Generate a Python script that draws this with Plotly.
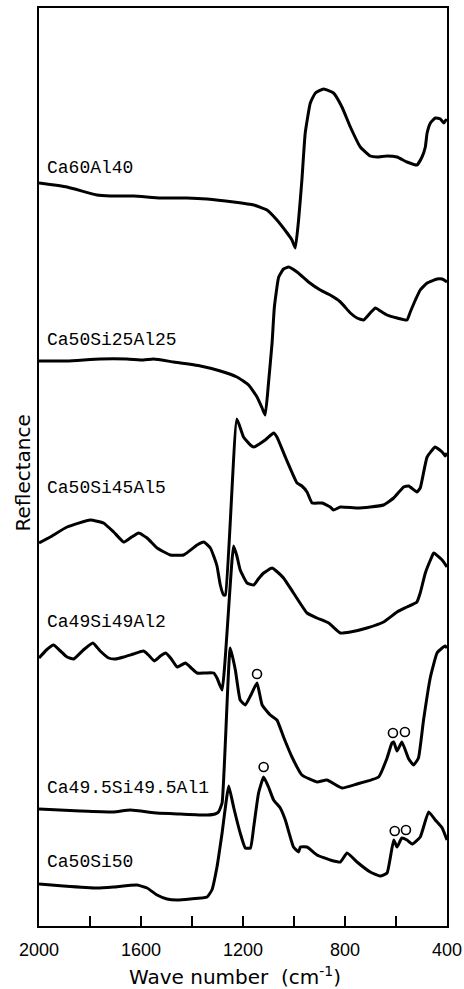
import plotly.graph_objects as go

# ---- data (wave number in cm^-1, reflectance in arbitrary offset units) ----
names = ["Ca60Al40", "Ca50Si25Al25", "Ca50Si45Al5", "Ca49Si49Al2",
         "Ca49.5Si49.5Al1", "Ca50Si50"]

wn_ca60al40 = [2000, 1890, 1773, 1720, 1629, 1524, 1420, 1341, 1237, 1158, 1106, 1067,
               1027, 1008, 995, 982, 969, 956, 936, 916, 884, 845, 812, 779, 740, 701,
               674, 635, 596, 557, 518, 498, 485, 478, 465, 446, 426, 413, 404, 400]
r_ca60al40 = [743, 739, 731, 730, 730, 728, 728, 727, 724, 721, 716, 706,
              693, 686, 678, 706, 746, 793, 823, 833, 837, 833, 819, 799, 779, 770,
              769, 770, 769, 764, 761, 769, 779, 793, 803, 808, 807, 803, 806, 805]

wn_ca50si25al25 = [2000, 1890, 1760, 1655, 1590, 1551, 1472, 1367, 1289, 1224, 1178, 1145,
                   1125, 1113, 1100, 1086, 1077, 1060, 1041, 1021, 988, 943, 897, 858,
                   818, 779, 753, 727, 701, 681, 661, 635, 596, 557, 544, 524, 505, 478,
                   439, 419, 400]
r_ca50si25al25 = [565, 565, 567, 567, 566, 567, 564, 560, 555, 549, 541, 529,
                  518, 511, 543, 583, 619, 649, 657, 659, 654, 644, 636, 631,
                  624, 613, 608, 606, 613, 618, 615, 611, 608, 606, 614, 626, 636, 643,
                  647, 647, 644]

wn_ca50si45al5 = [2000, 1956, 1890, 1799, 1747, 1707, 1668, 1642, 1609, 1576, 1537, 1485,
                  1433, 1380, 1354, 1328, 1315, 1302, 1289, 1276, 1269, 1224, 1198, 1171,
                  1158, 1113, 1080, 1067, 1034, 988, 969, 949, 929, 890, 858, 845, 818,
                  753, 701, 649, 609, 570, 550, 518, 505, 478, 446, 419, 407, 400]
r_ca50si45al5 = [383, 389, 399, 406, 403, 394, 384, 388, 393, 388, 378, 371,
                 371, 381, 384, 378, 370, 360, 341, 331, 331, 507, 489, 481,
                 479, 486, 493, 489, 469, 443, 440, 434, 423, 423, 419, 416, 419,
                 418, 419, 421, 428, 439, 440, 434, 438, 469, 479, 474, 470, 473]

wn_ca49si49al2 = [2000, 1971, 1943, 1916, 1890, 1864, 1826, 1789, 1760, 1727, 1701, 1668,
                  1630, 1590, 1567, 1548, 1524, 1503, 1481, 1458, 1426, 1407, 1380, 1348,
                  1315, 1302, 1282, 1237, 1224, 1211, 1184, 1158, 1140, 1119, 1086, 1065,
                  1041, 1002, 949, 910, 864, 818, 779, 714, 649, 596, 557, 518, 505, 485,
                  465, 452, 419, 400]
r_ca49si49al2 = [268, 276, 281, 275, 269, 267, 276, 283, 275, 268, 267, 269,
                 272, 275, 270, 265, 270, 273, 267, 259, 263, 259, 253, 253,
                 253, 248, 236, 380, 370, 356, 343, 341, 347, 353, 358, 354,
                 348, 333, 313, 308, 303, 293, 294, 298, 304, 314, 319, 324, 333, 353,
                 366, 373, 366, 359]

wn_ca495 = [2000, 1838, 1707, 1642, 1537, 1446, 1341, 1309, 1296, 1282, 1250, 1230, 1211,
            1191, 1169, 1145, 1125, 1093, 1067, 1041, 1008, 969, 910, 871, 812, 753, 668,
            635, 616, 609, 596, 577, 550, 531, 512, 492, 465, 439, 419, 407, 400]
r_ca495 = [117, 115, 114, 116, 113, 112, 111, 112, 114, 123, 278, 256, 226,
           221, 231, 243, 221, 211, 206, 189, 169, 151, 144, 146, 138, 142, 149,
           168, 183, 184, 175, 184, 167, 161, 168, 206, 249, 273, 278, 280, 278]

wn_ca50si50 = [2000, 1904, 1773, 1707, 1616, 1576, 1537, 1498, 1459, 1407, 1341, 1322,
               1302, 1282, 1256, 1237, 1211, 1191, 1171, 1158, 1139, 1119, 1100, 1080,
               1054, 1034, 1002, 982, 975, 949, 910, 858, 818, 792, 753, 701, 661, 635,
               609, 596, 577, 557, 537, 505, 472, 446, 419, 400]
r_ca50si50 = [42, 40, 38, 39, 41, 38, 31, 27, 26, 27, 29, 36,
              59, 93, 140, 119, 93, 78, 78, 99, 133, 149, 139, 126,
              118, 106, 79, 74, 79, 79, 71, 66, 64, 73, 64, 54, 50, 53,
              86, 79, 88, 86, 82, 89, 114, 106, 98, 86]

series_wn = [wn_ca60al40, wn_ca50si25al25, wn_ca50si45al5, wn_ca49si49al2, wn_ca495, wn_ca50si50]
series_r = [r_ca60al40, r_ca50si25al25, r_ca50si45al5, r_ca49si49al2, r_ca495, r_ca50si50]

# label heights (same units as reflectance)
label_r = [758, 586, 438, 304, 138, 64]
label_wn = 1976

# open-circle markers over the wollastonite peaks
circle_wn = [1145, 612, 565, 1119, 605, 561]
circle_r = [252, 193, 194, 159, 95, 96]

tick_vals = [2000, 1600, 1200, 800, 400]

fig = go.Figure()
for wn, r, nm in zip(series_wn, series_r, names):
    fig.add_trace(go.Scatter(x=wn, y=r, mode="lines", name=nm,
                             line=dict(color="black", width=3, shape="spline",
                                       smoothing=0.4),
                             showlegend=False))

fig.add_trace(go.Scatter(x=circle_wn, y=circle_r, mode="markers", showlegend=False,
                         marker=dict(symbol="circle-open", size=9, color="black",
                                     line=dict(width=1.6, color="black"))))

for nm, yr in zip(names, label_r):
    fig.add_annotation(x=label_wn, y=yr, text=nm, showarrow=False, xanchor="left",
                       yanchor="middle",
                       font=dict(family="Liberation Mono", size=18, color="black"))

fig.add_annotation(xref="paper", yref="paper", x=0.48, y=-0.054,
                   text="Wave number  (cm<sup>-1</sup>)", showarrow=False,
                   xanchor="center", yanchor="middle",
                   font=dict(family="DejaVu Sans", size=20, color="black"))
fig.add_annotation(xref="paper", yref="paper", x=-0.039, y=0.493,
                   text="Reflectance", showarrow=False, textangle=-90,
                   xanchor="center", yanchor="middle",
                   font=dict(family="DejaVu Sans", size=20, color="black"))

fig.update_layout(
    width=464, height=989,
    margin=dict(l=39, r=17, t=8, b=63, autoexpand=False),
    paper_bgcolor="white", plot_bgcolor="white",
    xaxis=dict(range=[2000, 400], tickvals=tick_vals,
               ticktext=[str(v) for v in tick_vals],
               ticks="inside", ticklen=10, tickwidth=2, tickcolor="black",
               minor=dict(dtick=200, tick0=0, ticks="inside", ticklen=10,
                          tickwidth=2, tickcolor="black"),
               showline=True, linecolor="black", linewidth=2, mirror=True,
               showgrid=False, zeroline=False, ticklabelstandoff=6,
               automargin=False,
               tickfont=dict(family="Liberation Sans", size=18, color="black")),
    yaxis=dict(range=[0, 918], showticklabels=False, ticks="",
               showline=True, linecolor="black", linewidth=2, mirror=True,
               showgrid=False, zeroline=False, automargin=False),
)

fig.write_html("out.html")
